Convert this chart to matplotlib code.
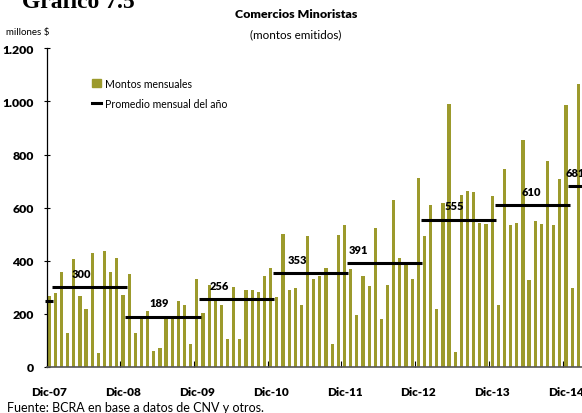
import matplotlib.pyplot as plt
from matplotlib.lines import Line2D
from matplotlib.patches import Patch
import numpy as np

plt.rcParams['font.family'] = ['Lato', 'DejaVu Sans']

# monthly issued amounts (millones $), Dic-07 .. Feb-15
MONTHLY = [268,
           278, 357, 127, 406, 267, 218, 429, 52, 437, 357, 410, 270,
           351, 127, 185, 210, 59, 70, 185, 181, 248, 233, 86, 331,
           203, 308, 248, 233, 104, 301, 104, 289, 289, 282, 342, 372,
           263, 501, 289, 297, 233, 493, 331, 342, 372, 86, 497, 535,
           369, 195, 342, 304, 523, 180, 308, 629, 410, 388, 331, 711,
           493, 610, 218, 618, 991, 58, 648, 663, 659, 542, 538, 644,
           233, 746, 535, 542, 855, 327, 550, 538, 776, 535, 708, 988,
           297, 1067]
MONTHS_PER_YEAR = [1, 12, 12, 12, 12, 12, 12, 12, 2]
YEAR_AVG = [249, 300, 189, 256, 353, 391, 555, 610, 681]
AVG_LABELS = ["", "300", "189", "256", "353", "391", "555", "610", "681"]
LABEL_X = [0, 5.3, 17.8, 27.6, 40.3, 50.3, 65.8, 78.3, 85.6]
TICK_LABELS = ["Dic-07", "Dic-08", "Dic-09", "Dic-10", "Dic-11", "Dic-12", "Dic-13", "Dic-14"]
Y_TICKS = [0, 200, 400, 600, 800, 1000, 1200]
Y_TICK_LABELS = ["0", "200", "400", "600", "800", "1.000", "1.200"]

BAR_COLOR = "#9c9a2c"
W, H = 582, 414

fig = plt.figure(figsize=(W / 100, H / 100), dpi=100)
ax = fig.add_axes([47 / W, (H - 368) / H, 535 / W, 318.7 / H])

x = np.arange(len(MONTHLY))
ax.bar(x, MONTHLY, width=0.52, color=BAR_COLOR, zorder=2)

start = 0
for n, avg, lab, lx in zip(MONTHS_PER_YEAR, YEAR_AVG, AVG_LABELS, LABEL_X):
    end = start + n - 1
    ax.plot([start - 0.6, end + 0.62], [avg, avg], color="black", lw=2.2,
            solid_capstyle="butt", zorder=3, clip_on=False)
    if lab:
        ax.annotate(lab, (lx, avg), xytext=(0, 10), textcoords="offset points",
                    ha="center", va="center", fontsize=8, fontweight="heavy",
                    annotation_clip=False)
    start = end + 1

ax.set_xlim(-0.35, 86.6)
ax.set_ylim(0, 1200)

ax.set_yticks(Y_TICKS)
ax.set_yticklabels(Y_TICK_LABELS, fontsize=8.8, fontweight="heavy")
ax.tick_params(axis="y", direction="inout", length=5, width=0.8, pad=7)

ax.set_xticks(np.arange(0, 85, 12))
ax.set_xticklabels(TICK_LABELS, fontsize=8.5, fontweight="heavy")
ax.set_xticks(np.arange(11.5, 86, 12), minor=True)
ax.tick_params(axis="x", which="major", length=0, pad=14)
ax.tick_params(axis="x", which="minor", direction="in", length=4, width=0.8)

for side in ["top", "right"]:
    ax.spines[side].set_visible(False)
ax.spines["left"].set_linewidth(0.9)
ax.spines["bottom"].set_color("#555555")
ax.spines["bottom"].set_linewidth(1.2)

handles = [Patch(color=BAR_COLOR), Line2D([], [], color="black", lw=2.2)]
ax.legend(handles, ["Montos mensuales", "Promedio mensual del año"],
          loc="upper left", bbox_to_anchor=(0.077, 0.92), frameon=False,
          fontsize=7.6, handlelength=0.8, handleheight=0.8, handletextpad=0.4,
          labelspacing=0.85, borderaxespad=0)

fig.text(22 / W, 1 - 8 / H, "Gráfico 7.5", family="Liberation Serif", fontweight="bold",
         fontsize=17, va="baseline")
fig.text(296 / W, 1 - 14 / H, "Comercios Minoristas", ha="center", va="center",
         fontsize=8.9, fontweight="heavy")
fig.text(296 / W, 1 - 35 / H, "(montos emitidos)", ha="center", va="center", fontsize=8.4)
fig.text(6 / W, 1 - 33 / H, "millones $", ha="left", va="center", fontsize=7)
fig.text(7 / W, 1 - 408 / H, "Fuente: BCRA en base a datos de CNV y otros.",
         ha="left", va="center", fontsize=9)

fig.savefig("out.png", dpi=100)
